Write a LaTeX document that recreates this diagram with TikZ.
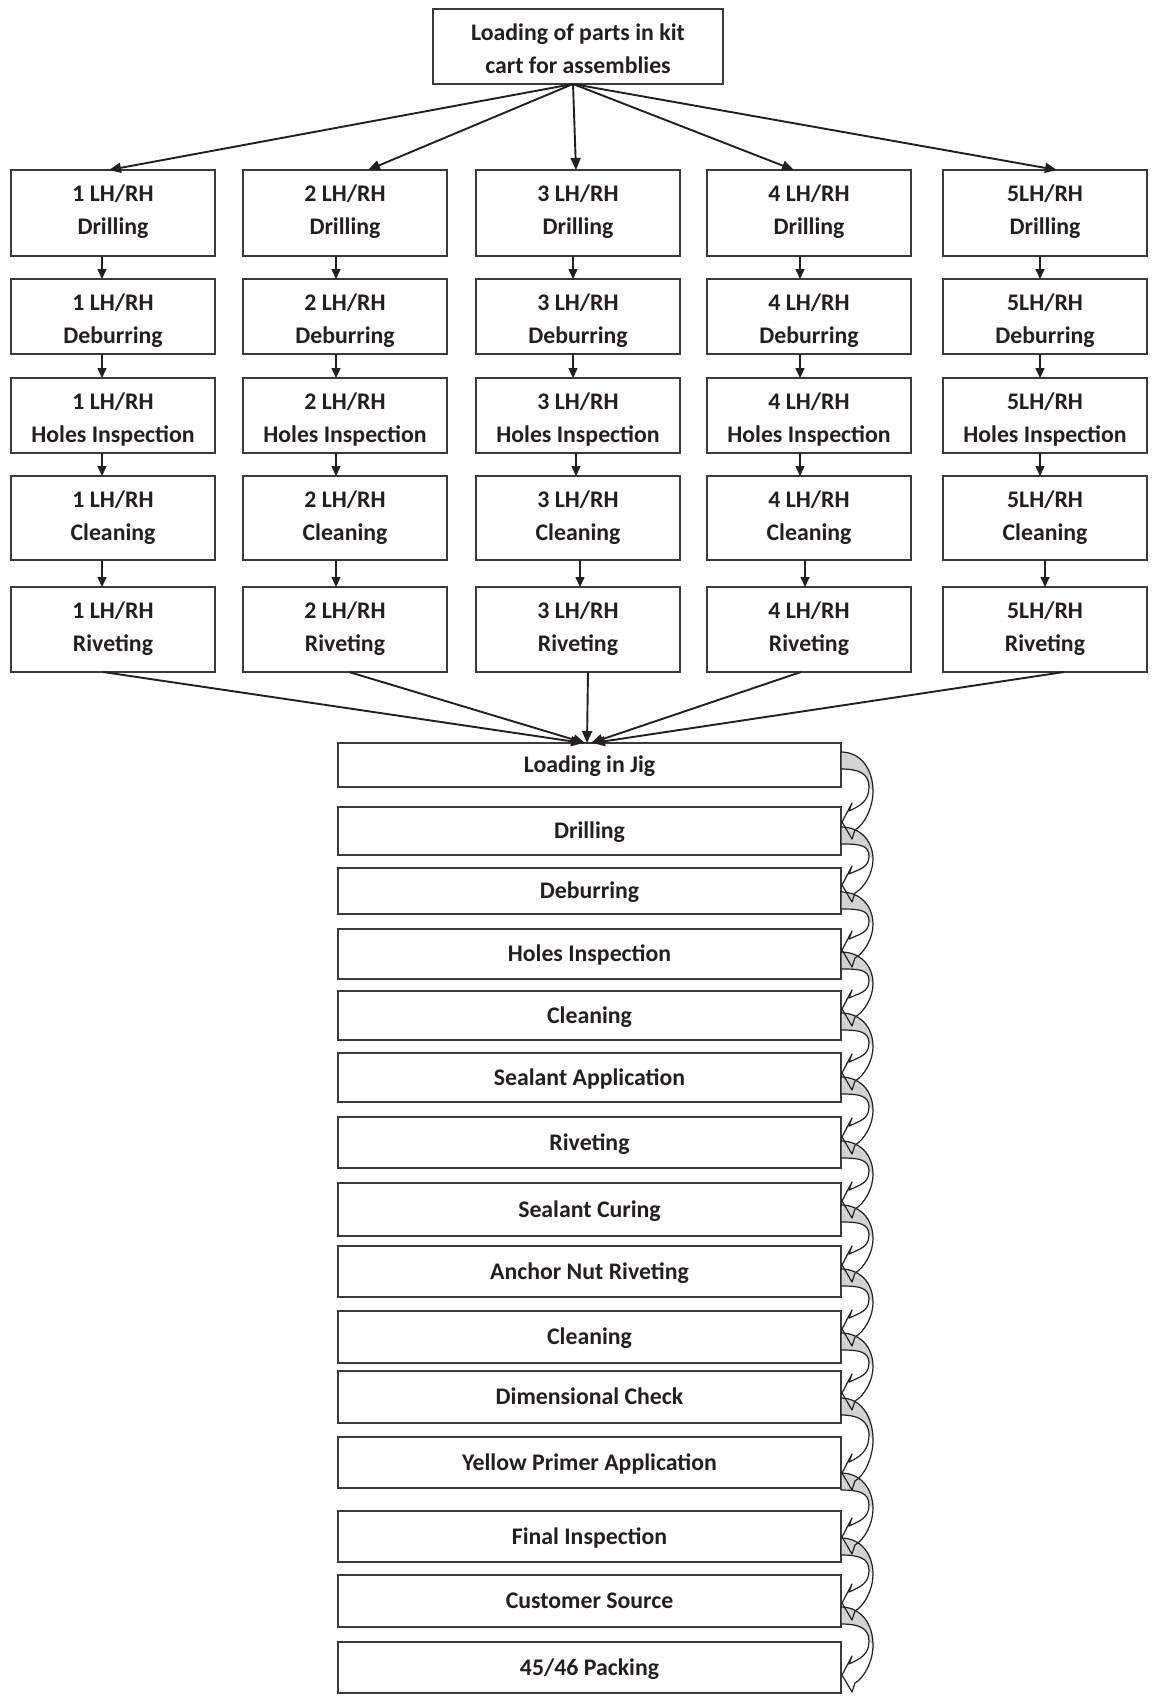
\documentclass[tikz,border=0pt]{standalone}
\usepackage{fontspec}
\setmainfont{Carlito}
\usetikzlibrary{arrows.meta,calc}
\definecolor{ln}{HTML}{3A3A3A}
\definecolor{tx}{HTML}{231F20}
\definecolor{cg}{HTML}{D2D2D2}
\newcommand\lhrh{LH/RH}
\newcommand\cvband[3]{\path[#1] (841,#2) .. controls (861,#2) and (873,{#2+0.25*(#3-#2)}) .. (873,{#2+0.56*(#3-#2)}) .. controls (873,{#2+0.8*(#3-#2)}) and (864,#3+3) .. (855,#3+8) -- (852,#3+17) -- (842,#3) -- (852,#3-19) -- (849,#3-11) .. controls (860,#3-16) and (869,{#2+0.7*(#3-#2)}) .. (869,{#2+0.5*(#3-#2)}) .. controls (869,{#2+0.3*(#3-#2)}) and (858,#2+17) .. (841,#2+17) -- cycle;}
\newcommand\cvback[3]{\path[#1] (841,#2) .. controls (861,#2) and (873,{#2+0.25*(#3-#2)}) .. (873,{#2+0.56*(#3-#2)}) -- (869,{#2+0.5*(#3-#2)}) .. controls (869,{#2+0.3*(#3-#2)}) and (858,#2+17) .. (841,#2+17) -- cycle;}
\begin{document}
\begin{tikzpicture}[x=1pt,y=-1pt,
 box/.style={draw=ln, line width=1.3pt, fill=white, inner sep=0pt, outer sep=0pt, rectangle},
 txt/.style={font=\fontsize{23.8}{28}\selectfont\bfseries, text=tx, inner sep=0pt, anchor=base},
 bt/.style={font=\fontsize{23.8}{28}\selectfont\bfseries, text=tx, text height=15pt, text depth=0pt},
 varr/.style={draw=tx, line width=1.5pt, -{Triangle[length=10pt,width=9pt]}},
 farr/.style={draw=tx, line width=1.9pt, -{Triangle[length=12pt,width=10pt]}}]
\fill[white] (0,0) rectangle (1151,1702);
\useasboundingbox (0,0) rectangle (1151,1702);

% top box
\node[box, minimum width=290pt, minimum height=75pt] (t) at (578,46.5) {};
\node[txt] (ta) at (578,41) {Loading of parts in kit};
\node[txt] (tb) at (578,73.5) {cart for assemblies};

% upper grid
\foreach \cl/\cx/\pre in {1/113/1\ ,2/345/2\ ,3/578/3\ ,4/809/4\ ,5/1045/5}{
  \foreach \rw/\ytop/\ybot/\nm in {1/170/256/Drilling,2/279/354/Deburring,3/378/453/Holes Inspection,4/476/560/Cleaning,5/587/672/Riveting}{
    \node[box, minimum width=204pt, minimum height={\ybot-\ytop}] (b\rw\cl) at (\cx,{(\ytop+\ybot)/2}) {};
    \begin{scope}
      \ifnum\rw=2 \clip (\cx-103,\ytop) rectangle (\cx+103,\ybot-7);\fi
      \node[txt] (la\rw\cl) at (\cx,\ytop+31.5) {\pre\lhrh};
      \node[txt] (lb\rw\cl) at (\cx,\ytop+64.5) {\nm};
    \end{scope}
  }
}

% fan from top box
\foreach \cl/\off in {1/-4,2/23,3/-2,4/-15,5/12}
  \draw[farr] ([xshift=-5pt]t.south) -- ([xshift=\off pt]b1\cl.north);

% vertical arrows in columns
\foreach \cl/\oa/\ob/\oc/\od in {1/-11/-11/-11/-11,2/-9/-9/-9/-9,3/-5/-5/-2/2,4/-9/-9/-9/-4,5/-5/-5/-5/0}{
  \draw[varr] ([xshift=\oa pt]b1\cl.south) -- ([xshift=\oa pt]b2\cl.north);
  \draw[varr] ([xshift=\ob pt]b2\cl.south) -- ([xshift=\ob pt]b3\cl.north);
  \draw[varr] ([xshift=\oc pt]b3\cl.south) -- ([xshift=\oc pt]b4\cl.north);
  \draw[varr] ([xshift=\od pt]b4\cl.south) -- ([xshift=\od pt]b5\cl.north);
}

% lower column
\foreach \idx/\ytop/\ybot/\nm in {1/743/787/Loading in Jig,2/807/855/Drilling,3/868/914/Deburring,4/929/979/Holes Inspection,5/991/1040/Cleaning,6/1053/1102/Sealant Application,7/1117/1168/Riveting,8/1183/1236/Sealant Curing,9/1246/1297/Anchor Nut Riveting,10/1311/1363/Cleaning,11/1371/1423/Dimensional Check,12/1437/1488/Yellow Primer Application,13/1511/1562/Final Inspection,14/1575/1627/Customer Source,15/1642/1693/45\slash 46 Packing}
  \node[box, bt, minimum width=503pt, minimum height={\ybot-\ytop}] (j\idx) at (589.5,{(\ytop+\ybot)/2}) {\nm};

% converging arrows
\foreach \cl/\off/\en in {1/-10/-6.5,2/4/-4.5,3/10/-2.5,4/-8/1.5,5/19/3.5}
  \draw[farr] ([xshift=\off pt]b5\cl.south) -- ([xshift=\en pt]j1.north);

% curved arrows
\foreach \ya/\yb in {752/822,827/885,892/950,952/1009,1013/1073,1077/1137,1141/1201,1205/1265,1269/1329,1333/1393,1398/1473,1473/1537,1538/1603,1607/1675}{
  \cvband{fill=white}{\ya}{\yb}
  \cvback{fill=cg}{\ya}{\yb}
}
\foreach \ya/\yb in {752/822,827/885,892/950,952/1009,1013/1073,1077/1137,1141/1201,1205/1265,1269/1329,1333/1393,1398/1473,1473/1537,1538/1603,1607/1675}{
  \cvband{draw=tx, line width=1.2pt, line join=round}{\ya}{\yb}
}
\end{tikzpicture}
\end{document}
